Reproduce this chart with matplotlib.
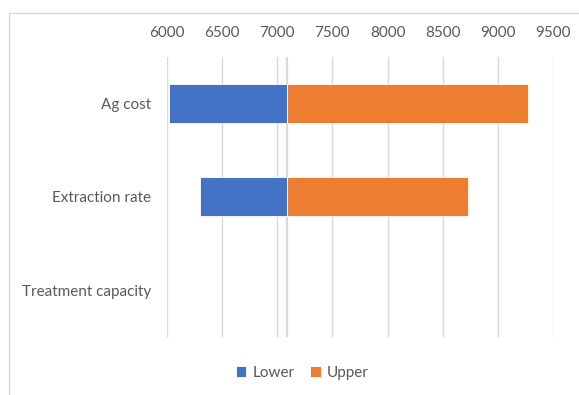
import matplotlib.pyplot as plt
from matplotlib.lines import Line2D

# tornado chart data
categories = ["Ag cost", "Extraction rate", "Treatment capacity"]
base_value = 7085
lower_values = [6024, 6302, 7085]
upper_values = [9271, 8727, 7085]
tick_values = [6000, 6500, 7000, 7500, 8000, 8500, 9000, 9500]

blue = "#4472C4"
orange = "#ED7D31"
grid_col = "#D9D9D9"
text_col = "#595959"

plt.rcParams["font.family"] = ["Lato", "DejaVu Sans"]

fig = plt.figure(figsize=(5.79, 3.95), dpi=100)
ax = fig.add_axes([166.7 / 579, 1 - 337 / 395, (553.2 - 166.7) / 579, (337 - 56.7) / 395])

ypos = list(range(len(categories)))
low_w = [base_value - v for v in lower_values]
up_w = [v - base_value for v in upper_values]
# no outline on empty (zero width) bars
low_lw = [0.6 if w > 0 else 0 for w in low_w]
up_lw = [0.6 if w > 0 else 0 for w in up_w]
ax.barh(ypos, low_w, left=lower_values, height=0.42, color=blue,
        edgecolor="white", linewidth=low_lw, label="Lower", zorder=3)
ax.barh(ypos, up_w, left=base_value, height=0.42, color=orange,
        edgecolor="white", linewidth=up_lw, label="Upper", zorder=3)

ax.axvline(base_value, color=grid_col, lw=1.6, zorder=2)

ax.set_xlim(6000, 9500)
ax.set_ylim(2.5, -0.5)
ax.set_xticks(tick_values)
ax.set_yticks(ypos)
ax.set_yticklabels(categories)
ax.xaxis.tick_top()
ax.grid(axis="x", color=grid_col, lw=1.0, zorder=0)
ax.set_axisbelow(True)
for s in ax.spines.values():
    s.set_visible(False)
ax.tick_params(axis="x", length=0, pad=12, labelsize=11, colors=text_col)
ax.tick_params(axis="y", length=0, pad=11, labelsize=11, colors=text_col)

fig.legend(loc="center", bbox_to_anchor=(0.522, 1 - 373 / 395), ncol=2,
           frameon=False, fontsize=11, handlelength=0.7, handleheight=0.7,
           handletextpad=0.4, columnspacing=1.0, labelcolor=text_col)

# chart area border (top and left edges visible)
x0, y0 = 9 / 579, 1 - 13 / 395
fig.add_artist(Line2D([x0, 1], [y0, y0], transform=fig.transFigure, color=grid_col, lw=1))
fig.add_artist(Line2D([x0, x0], [0, y0], transform=fig.transFigure, color=grid_col, lw=1))

fig.savefig("out.png", dpi=100)
